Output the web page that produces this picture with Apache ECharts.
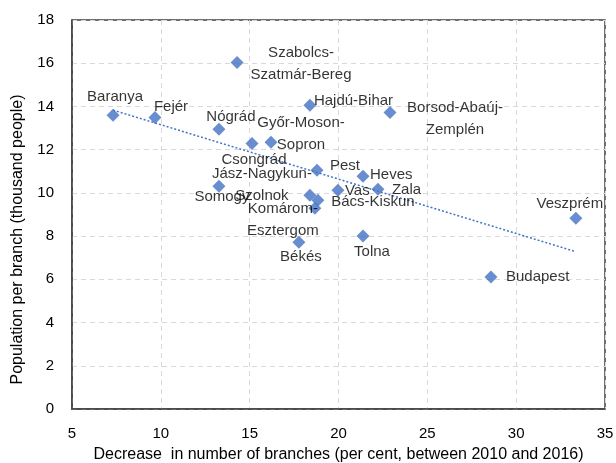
<!DOCTYPE html>
<html>
<head>
<meta charset="utf-8">
<script src="https://cdn.jsdelivr.net/npm/echarts@6/dist/echarts.min.js"></script>
<style>
html,body{margin:0;padding:0;background:#fff;}
#chart{width:616px;height:463px;}
</style>
</head>
<body>
<div id="chart"></div>
<script>
// ---- Data ----
const counties = [
  'Baranya', 'Fejér', 'Nógrád', 'Szabolcs-\nSzatmár-Bereg', 'Csongrád',
  'Győr-Moson-\nSopron', 'Hajdú-Bihar', 'Borsod-Abaúj-\nZemplén', 'Pest', 'Somogy',
  'Jász-Nagykun-\nSzolnok', 'Bács-Kiskun', 'Komárom-\nEsztergom', 'Vas', 'Heves',
  'Zala', 'Békés', 'Tolna', 'Budapest', 'Veszprém'
];
const decrease = [
  7.31, 9.67, 13.27, 14.29, 15.13,
  16.20, 18.39, 22.90, 18.79, 13.27,
  18.39, 18.84, 18.67, 19.97, 21.38,
  22.22, 17.77, 21.38, 28.58, 33.36
];
const population = [
  13.59, 13.49, 12.94, 16.03, 12.29,
  12.34, 14.05, 13.72, 11.05, 10.31,
  9.89, 9.66, 9.29, 10.12, 10.77,
  10.17, 7.72, 8.00, 6.11, 8.83
];
const xTicks = [5, 10, 15, 20, 25, 30, 35];
const yTicks = [0, 2, 4, 6, 8, 10, 12, 14, 16, 18];

// ---- Label placement (style only) ----
const labelPlace = {
  'Baranya': ['center', 2, -18],
  'Fejér': ['center', 16, -11],
  'Nógrád': ['center', 12, -12],
  'Szabolcs-\nSzatmár-Bereg': ['center', 64, 1],
  'Csongrád': ['center', 2, 16],
  'Győr-Moson-\nSopron': ['center', 30, -8],
  'Hajdú-Bihar': ['left', 4, -5],
  'Borsod-Abaúj-\nZemplén': ['center', 65, 6],
  'Pest': ['center', 28, -4],
  'Somogy': ['center', 3, 11],
  'Jász-Nagykun-\nSzolnok': ['center', -48, -10],
  'Bács-Kiskun': ['center', 55, 2],
  'Komárom-\nEsztergom': ['center', -32, 12],
  'Vas': ['left', 7, 1],
  'Heves': ['left', 7, -1],
  'Zala': ['left', 14, 1],
  'Békés': ['center', 2, 15],
  'Tolna': ['center', 9, 16],
  'Budapest': ['left', 15, 0],
  'Veszprém': ['center', -6, -14]
};

const FONT = 'Liberation Sans';

const points = counties.map((name, i) => {
  const p = labelPlace[name];
  return {
    name: name,
    value: [decrease[i], population[i]],
    label: {
      show: true,
      formatter: name,
      position: 'inside',
      align: p[0],
      verticalAlign: 'middle',
      offset: [p[1], p[2]],
      color: '#000',
      fontFamily: FONT,
      fontSize: 15,
      lineHeight: 22
    }
  };
});

// Linear trendline (least squares) from the data
const n = decrease.length;
let sx = 0, sy = 0, sxx = 0, sxy = 0;
for (let i = 0; i < n; i++) {
  sx += decrease[i]; sy += population[i];
  sxx += decrease[i] * decrease[i]; sxy += decrease[i] * population[i];
}
const slope = (n * sxy - sx * sy) / (n * sxx - sx * sx);
const intercept = (sy - slope * sx) / n;
const xMin = Math.min(...decrease), xMax = Math.max(...decrease);
const trend = [[xMin, intercept + slope * xMin], [xMax, intercept + slope * xMax]];

const chart = echarts.init(document.getElementById('chart'), null, {renderer: 'canvas'});
chart.setOption({
  animation: false,
  backgroundColor: '#fff',
  grid: {
    left: 72, right: 11, top: 20, bottom: 54,
    containLabel: false,
    outerBoundsMode: 'none',
    show: true, borderColor: '#404040', borderWidth: 1.5
  },
  xAxis: {
    type: 'value',
    min: xTicks[0], max: xTicks[xTicks.length - 1], interval: 5,
    name: 'Decrease  in number of branches (per cent, between 2010 and 2016)',
    nameLocation: 'middle', nameGap: 38,
    nameTextStyle: {fontFamily: FONT, fontSize: 16, color: '#000'},
    axisLine: {show: true, lineStyle: {color: '#404040', width: 1.5}},
    axisTick: {show: false},
    axisLabel: {fontFamily: FONT, fontSize: 15, color: '#000', margin: 17},
    splitLine: {show: true, lineStyle: {color: '#d9d9d9', type: [5, 4], width: 1}}
  },
  yAxis: {
    type: 'value',
    min: yTicks[0], max: yTicks[yTicks.length - 1], interval: 2,
    name: 'Population per branch (thousand people)',
    nameLocation: 'middle', nameGap: 46,
    nameTextStyle: {fontFamily: FONT, fontSize: 16, color: '#000', padding: [0, 50, 0, 0]},
    axisLine: {show: true, lineStyle: {color: '#404040', width: 1.5}},
    axisTick: {show: false},
    axisLabel: {fontFamily: FONT, fontSize: 15, color: '#000', margin: 18},
    splitLine: {show: true, lineStyle: {color: '#d9d9d9', type: [5, 4], width: 1}}
  },
  series: [
    {
      type: 'line',
      data: trend,
      symbol: 'none',
      silent: true,
      lineStyle: {color: '#4472C4', width: 1.5, type: [2, 2]},
      z: 1
    },
    {
      type: 'scatter',
      data: points,
      symbol: 'diamond',
      symbolSize: [13, 13],
      itemStyle: {color: '#4472C4'},
      z: 3
    }
  ]
});
</script>
</body>
</html>
